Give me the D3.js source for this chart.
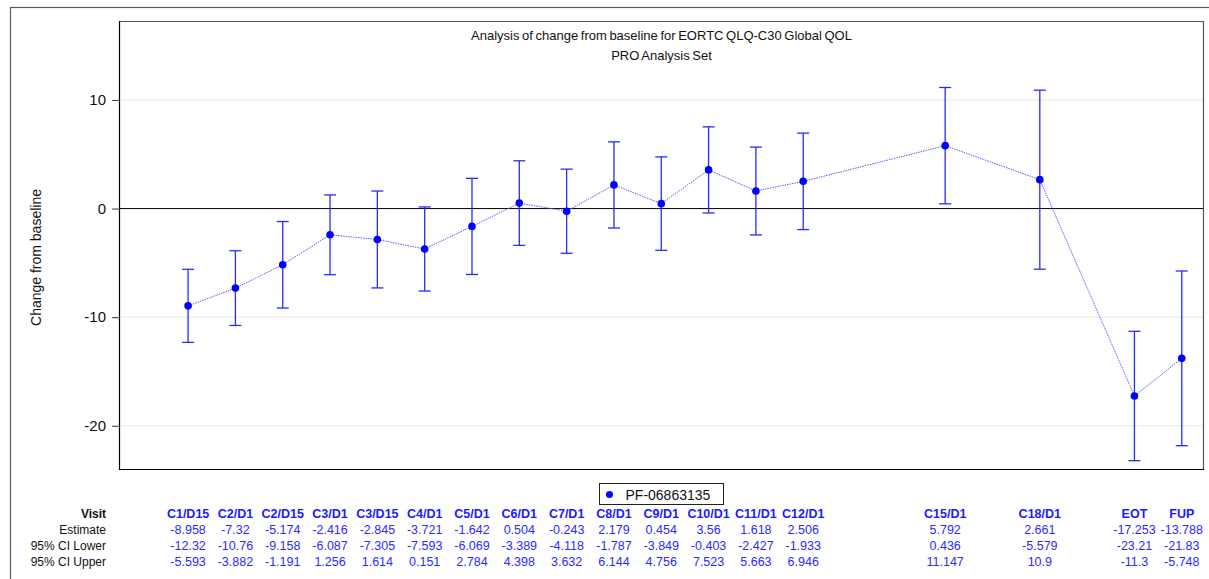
<!DOCTYPE html>
<html>
<head>
<meta charset="utf-8">
<script src="https://cdn.jsdelivr.net/npm/d3@7"></script>
<style>
  html, body { margin: 0; padding: 0; background: #fff; }
  svg { display: block; font-family: "Liberation Sans", Arial, sans-serif; }
</style>
</head>
<body>
<svg id="chart" width="1209" height="579"></svg>
<script>
// Visits and their slot on the time axis
const visits = ["C1/D15","C2/D1","C2/D15","C3/D1","C3/D15","C4/D1","C5/D1","C6/D1","C7/D1",
                "C8/D1","C9/D1","C10/D1","C11/D1","C12/D1","C15/D1","C18/D1","EOT","FUP"];
const visitSlot = [0,1,2,3,4,5,6,7,8,9,10,11,12,13,16,18,20,21];

// Estimates and 95% confidence limits (as printed in the table)
const estimate = ["-8.958","-7.32","-5.174","-2.416","-2.845","-3.721","-1.642","0.504","-0.243",
                  "2.179","0.454","3.56","1.618","2.506","5.792","2.661","-17.253","-13.788"];
const ciLower  = ["-12.32","-10.76","-9.158","-6.087","-7.305","-7.593","-6.069","-3.389","-4.118",
                  "-1.787","-3.849","-0.403","-2.427","-1.933","0.436","-5.579","-23.21","-21.83"];
const ciUpper  = ["-5.593","-3.882","-1.191","1.256","1.614","0.151","2.784","4.398","3.632",
                  "6.144","4.756","7.523","5.663","6.946","11.147","10.9","-11.3","-5.748"];

const yTicks = [-20, -10, 0, 10];
const seriesName = "PF-06863135";
const titleLines = ["Analysis of change from baseline for EORTC QLQ-C30 Global QOL", "PRO Analysis Set"];
const yLabel = "Change from baseline";
const rowLabels = ["Visit", "Estimate", "95% CI Lower", "95% CI Upper"];

const data = visits.map((v, i) => ({
  visit: v, slot: visitSlot[i],
  est: +estimate[i], lo: +ciLower[i], hi: +ciUpper[i],
  estTxt: estimate[i], loTxt: ciLower[i], hiTxt: ciUpper[i]
}));

const svg = d3.select("#chart");
const plot = { left: 119, right: 1204, top: 21, bottom: 470 };

const x = d3.scaleLinear().domain([-1.46, 21.47]).range([plot.left, plot.right]);
const y = d3.scaleLinear().domain([-24.07, 17.27]).range([plot.bottom, plot.top]);

const blue = "#0000ff";

// Outer frame
svg.append("rect").attr("x", 10.5).attr("y", 7.5).attr("width", 1220).attr("height", 600)
  .attr("fill", "none").attr("stroke", "#5a5a5a").attr("stroke-width", 1.2);

// Grid lines
svg.append("g").selectAll("line").data(yTicks.filter(t => t !== 0)).join("line")
  .attr("x1", plot.left).attr("x2", plot.right)
  .attr("y1", d => y(d)).attr("y2", d => y(d))
  .attr("stroke", "#e6e6e6").attr("stroke-width", 1);

// Zero reference line
svg.append("line").attr("x1", plot.left).attr("x2", plot.right)
  .attr("y1", y(0)).attr("y2", y(0)).attr("stroke", "#000").attr("stroke-width", 1);

// Plot frame: top/right grey, left/bottom black
svg.append("line").attr("x1", plot.left).attr("x2", plot.right).attr("y1", plot.top + 0.5).attr("y2", plot.top + 0.5)
  .attr("stroke", "#555").attr("stroke-width", 1);
svg.append("line").attr("x1", plot.right - 0.5).attr("x2", plot.right - 0.5).attr("y1", plot.top).attr("y2", plot.bottom)
  .attr("stroke", "#555").attr("stroke-width", 1.2);
svg.append("line").attr("x1", plot.left).attr("x2", plot.right).attr("y1", plot.bottom - 0.5).attr("y2", plot.bottom - 0.5)
  .attr("stroke", "#000").attr("stroke-width", 1.2);

// Y axis (plain hyphen for negative labels)
const yAxis = d3.axisLeft(y).tickValues(yTicks).tickSize(7).tickPadding(6).tickFormat(d => String(d));
const gy = svg.append("g").attr("transform", `translate(${plot.left},0)`).call(yAxis);
gy.select(".domain").attr("stroke", "#000").attr("stroke-width", 1.2)
  .attr("d", `M0.5,${plot.top}V${plot.bottom}`);
gy.selectAll(".tick line").attr("stroke", "#333");
gy.selectAll(".tick text").attr("font-size", 15).attr("fill", "#111")
  .attr("font-family", "'Liberation Sans', Arial, sans-serif");

// Y axis title
svg.append("text").attr("transform", `translate(41,${(plot.top + plot.bottom) / 2 + 12}) rotate(-90)`)
  .attr("text-anchor", "middle").attr("font-size", 14).attr("fill", "#111").text(yLabel);

// Chart title
svg.append("g").selectAll("text").data(titleLines).join("text")
  .attr("x", (plot.left + plot.right) / 2).attr("y", (d, i) => 40 + i * 20)
  .attr("text-anchor", "middle").attr("font-size", 13).attr("fill", "#111")
  .attr("word-spacing", "-1").text(d => d);

// Connecting dotted line
const line = d3.line().x(d => x(d.slot)).y(d => y(d.est));
svg.append("path").datum(data).attr("d", line)
  .attr("fill", "none").attr("stroke", "#5a5aff").attr("stroke-width", 1)
  .attr("stroke-dasharray", "1.5,1");

// Error bars
const eb = svg.append("g").attr("stroke", "#2a2aff").attr("stroke-width", 1.3);
eb.selectAll("line.v").data(data).join("line").attr("class", "v")
  .attr("x1", d => x(d.slot)).attr("x2", d => x(d.slot))
  .attr("y1", d => y(d.lo)).attr("y2", d => y(d.hi));
eb.selectAll("line.lo").data(data).join("line").attr("class", "lo")
  .attr("x1", d => x(d.slot) - 6).attr("x2", d => x(d.slot) + 6)
  .attr("y1", d => y(d.lo)).attr("y2", d => y(d.lo));
eb.selectAll("line.hi").data(data).join("line").attr("class", "hi")
  .attr("x1", d => x(d.slot) - 6).attr("x2", d => x(d.slot) + 6)
  .attr("y1", d => y(d.hi)).attr("y2", d => y(d.hi));

// Markers
svg.append("g").selectAll("circle").data(data).join("circle")
  .attr("cx", d => x(d.slot)).attr("cy", d => y(d.est)).attr("r", 3.8).attr("fill", blue);

// Legend
const lg = svg.append("g").attr("transform", "translate(599.5,483.5)");
lg.append("rect").attr("width", 124).attr("height", 21).attr("fill", "#fff")
  .attr("stroke", "#222").attr("stroke-width", 1);
lg.append("circle").attr("cx", 10).attr("cy", 11).attr("r", 3.5).attr("fill", blue);
lg.append("text").attr("x", 26).attr("y", 16).attr("font-size", 14).attr("fill", "#111").text(seriesName);

// Table under the plot
const rowY = [518, 534, 550, 566];
svg.append("g").selectAll("text").data(rowLabels).join("text")
  .attr("x", 106).attr("y", (d, i) => rowY[i]).attr("text-anchor", "end")
  .attr("font-size", 12).attr("fill", "#111")
  .attr("font-weight", (d, i) => i === 0 ? "bold" : "normal").text(d => d);

const cols = svg.append("g").selectAll("g").data(data).join("g")
  .attr("transform", d => `translate(${x(d.slot)},0)`);
cols.append("text").attr("y", rowY[0]).attr("text-anchor", "middle").attr("font-size", 12.5)
  .attr("font-weight", "bold").attr("fill", "#1a1aff").text(d => d.visit);
cols.append("text").attr("y", rowY[1]).attr("text-anchor", "middle").attr("font-size", 12.5)
  .attr("fill", "#2b2bff").text(d => d.estTxt);
cols.append("text").attr("y", rowY[2]).attr("text-anchor", "middle").attr("font-size", 12.5)
  .attr("fill", "#2b2bff").text(d => d.loTxt);
cols.append("text").attr("y", rowY[3]).attr("text-anchor", "middle").attr("font-size", 12.5)
  .attr("fill", "#2b2bff").text(d => d.hiTxt);
</script>
</body>
</html>
